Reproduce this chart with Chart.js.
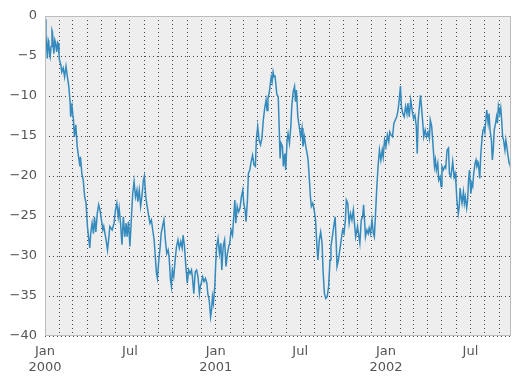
<!DOCTYPE html>
<html>
<head>
<meta charset="utf-8">
<script src="https://cdn.jsdelivr.net/npm/chart.js@4/dist/chart.umd.min.js"></script>
<style>
  body { margin: 0; background: #fff; }
</style>
</head>
<body>
<canvas id="myChart" width="520" height="385"></canvas>
<script>
// days counted from 2000-01-01
const days = [
  0, 2, 4, 5, 7, 8, 10, 11, 13, 15, 16, 18, 19, 21, 22, 24, 25, 27, 28, 30,
  31, 34, 36, 39, 42, 45, 48, 51, 54, 55, 58, 61, 63, 66, 69, 72, 75, 76, 79, 82,
  85, 88, 91, 94, 96, 98, 101, 104, 106, 109, 112, 115, 118, 121, 124, 126, 131, 134, 137, 139,
  144, 148, 151, 154, 157, 159, 162, 165, 168, 171, 174, 176, 179, 182, 185, 188, 191, 194, 197, 199,
  202, 205, 208, 211, 213, 216, 219, 222, 225, 228, 231, 234, 236, 239, 241, 244, 247, 249, 252, 255,
  258, 261, 264, 266, 269, 271, 273, 276, 279, 282, 285, 288, 291, 294, 296, 299, 302, 305, 308, 311,
  314, 316, 319, 322, 325, 328, 331, 333, 335, 338, 341, 344, 347, 349, 352, 355, 357, 359, 361, 364,
  366, 368, 371, 374, 377, 379, 382, 385, 388, 391, 394, 396, 399, 402, 405, 407, 409, 412, 415, 418,
  421, 424, 426, 429, 431, 434, 436, 439, 442, 445, 448, 451, 453, 456, 459, 462, 465, 468, 471, 474,
  476, 478, 481, 483, 485, 487, 489, 491, 493, 495, 497, 500, 502, 504, 506, 509, 511, 514, 516, 519,
  521, 524, 527, 529, 532, 535, 537, 539, 542, 545, 548, 551, 553, 556, 559, 562, 564, 566, 569, 571,
  574, 577, 580, 583, 585, 588, 591, 594, 596, 599, 602, 605, 608, 611, 613, 616, 619, 622, 624, 626,
  629, 632, 635, 638, 641, 644, 646, 649, 652, 655, 658, 661, 664, 666, 670, 673, 675, 678, 681, 683,
  685, 687, 690, 693, 695, 698, 701, 704, 706, 708, 711, 714, 717, 720, 723, 725, 728, 731, 734, 737,
  739, 742, 745, 748, 751, 754, 757, 760, 762, 764, 767, 770, 773, 776, 778, 781, 784, 787, 790, 793,
  796, 798, 800, 802, 805, 807, 810, 812, 815, 818, 821, 824, 826, 829, 832, 835, 837, 839, 842, 844,
  847, 849, 851, 854, 857, 859, 862, 865, 867, 870, 872, 874, 877, 879, 881, 883, 886, 888, 890, 892,
  894, 897, 899, 901, 904, 906, 908, 910, 913, 915, 917, 919, 922, 924, 926, 929, 932, 934, 936, 939,
  941, 943, 945, 947, 950, 952, 954, 957, 959, 961, 963, 966, 968, 970, 972, 975, 977, 979, 981, 983,
  986, 988, 990, 992, 995, 997, 999
];
const values = [
  -0.4, -2.5, -4.2, -5.3, -3.0, -3.2, -4.8, -5.1, -3.8, -1.8, -2.0, -4.0, -4.7, -3.0, -3.2, -4.0, -4.5, -3.3, -3.4, -4.8,
  -5.5, -6.1, -7.0, -6.5, -7.6, -6.3, -7.6, -8.8, -10.9, -12.6, -11.3, -13.0, -15.1, -13.6, -16.3, -17.6, -18.8, -17.6, -19.7, -20.5,
  -22.6, -23.4, -26.3, -28.0, -29.0, -27.2, -25.9, -27.2, -25.1, -27.0, -24.7, -23.6, -24.3, -25.5, -26.75, -26.3, -28.0, -29.25, -27.6, -26.3,
  -26.75, -25.9, -24.25, -23.4, -25.1, -24.05, -25.9, -28.6, -25.1, -27.6, -25.9, -27.6, -25.7, -28.8, -25.5, -22.2, -20.7, -22.6, -21.75, -23.2,
  -21.75, -23.8, -22.4, -20.5, -20.0, -22.6, -23.8, -24.9, -25.9, -25.5, -26.75, -28.0, -29.7, -32.2, -32.8, -30.5, -28.8, -27.2, -26.3, -25.5,
  -28.0, -29.7, -29.25, -30.1, -33.0, -33.8, -31.75, -32.6, -30.5, -28.8, -28.0, -29.0, -28.2, -29.0, -27.4, -28.8, -31.3, -33.4, -31.75, -32.2,
  -31.75, -32.6, -34.7, -32.0, -31.75, -32.6, -34.7, -33.8, -33.4, -32.6, -33.2, -32.8, -33.4, -34.7, -35.5, -37.6, -36.75, -35.1, -35.9, -33.8,
  -30.9, -28.8, -27.8, -29.7, -28.4, -31.75, -28.8, -28.0, -31.3, -29.7, -28.8, -28.4, -26.75, -27.4, -24.7, -23.0, -25.9, -23.8, -24.5, -24.0,
  -22.6, -21.75, -23.4, -24.25, -25.7, -23.0, -19.7, -19.25, -18.2, -17.4, -18.6, -18.8, -15.5, -13.8, -15.5, -16.1, -15.3, -13.0, -11.5, -10.5,
  -11.8, -10.3, -9.5, -8.5, -7.6, -8.2, -7.0, -7.6, -7.4, -8.6, -9.8, -10.1, -13.8, -17.8, -15.9, -16.3, -18.8, -17.2, -19.25, -15.5,
  -14.7, -15.9, -13.8, -11.3, -9.5, -8.8, -10.7, -9.25, -12.6, -13.8, -15.1, -14.0, -16.3, -15.1, -16.3, -17.2, -18.0, -19.7, -22.6, -23.8,
  -23.4, -24.25, -25.5, -28.8, -30.5, -28.0, -27.0, -28.4, -31.75, -34.7, -35.3, -35.1, -33.8, -30.5, -28.8, -27.6, -26.3, -25.1, -28.0, -31.3,
  -30.5, -29.25, -28.0, -26.75, -27.2, -25.5, -23.0, -23.4, -25.9, -24.7, -25.5, -24.25, -26.3, -27.6, -26.3, -27.6, -28.4, -25.5, -25.1, -23.6,
  -25.5, -27.6, -26.75, -27.2, -26.5, -27.2, -25.5, -27.2, -27.6, -25.5, -21.75, -18.8, -16.75, -18.0, -16.75, -17.6, -15.5, -16.3, -14.9, -15.7,
  -14.5, -14.9, -15.1, -13.4, -13.0, -12.6, -11.75, -10.1, -8.75, -11.3, -12.2, -12.6, -11.3, -12.2, -10.9, -12.6, -10.5, -11.75, -12.8, -12.4,
  -13.8, -17.2, -13.0, -11.75, -9.9, -11.3, -13.4, -15.1, -14.25, -15.1, -14.5, -15.3, -13.0, -13.8, -16.3, -18.8, -18.0, -19.25, -18.4, -20.5,
  -20.1, -21.3, -18.8, -19.25, -18.8, -19.0, -16.75, -16.5, -19.7, -20.1, -19.25, -18.2, -20.1, -19.7, -20.9, -23.0, -24.7, -23.8, -21.5, -22.6,
  -23.4, -22.0, -23.4, -22.6, -24.0, -23.0, -20.5, -19.25, -22.2, -20.9, -21.3, -19.7, -18.4, -18.0, -18.8, -18.4, -20.3, -17.6, -15.9, -14.25,
  -13.8, -14.5, -13.0, -11.75, -13.4, -12.2, -14.25, -15.5, -18.0, -16.75, -14.25, -13.4, -12.6, -13.4, -11.25, -12.2, -11.5, -13.0, -15.1, -15.5,
  -16.75, -15.5, -16.3, -17.2, -18.4, -18.6, -19.25
];
const monthLabels = ['Jan', '', '', '', '', '', 'Jul', '', '', '', '', ''];
const years = [2000, 2001, 2002];
const lastDay = 999;

// month starts as day offsets, used for ticks and minor grid
const monthTicks = [];
const start = Date.UTC(2000, 0, 1);
years.forEach(y => {
  for (let m = 0; m < 12; m++) {
    let d = Math.round((Date.UTC(y, m, 1) - start) / 864e5);
    if (d <= lastDay) monthTicks.push({ value: d, month: m, year: y });
  }
});

const tickFont = { family: 'DejaVu Sans', size: 13 };

const frame = {
  id: 'frame',
  beforeDraw(chart) {
    let a = chart.chartArea;
    chart.ctx.save();
    chart.ctx.fillStyle = '#eeeeee';
    chart.ctx.fillRect(a.left, a.top, a.right - a.left, a.bottom - a.top);
    chart.ctx.restore();
  },
  afterDraw(chart) {
    let a = chart.chartArea;
    let ctx = chart.ctx;
    ctx.save();
    ctx.strokeStyle = '#bcbcbc';
    ctx.lineWidth = 1;
    ctx.strokeRect(Math.round(a.left) + 0.5, Math.round(a.top) + 0.5,
      Math.round(a.right - a.left) - 1, Math.round(a.bottom - a.top) - 1);
    ctx.restore();
  }
};

new Chart('myChart', {
  type: 'line',
  data: {
    datasets: [{
      data: days.map((d, i) => ({ x: d, y: values[i] })),
      borderColor: '#348ABD',
      borderWidth: 1.5,
      pointRadius: 0,
      tension: 0,
      fill: false
    }]
  },
  options: {
    responsive: false,
    animation: false,
    layout: { padding: { top: 16, right: 9, left: 0, bottom: 0 } },
    plugins: {
      legend: { display: false },
      tooltip: { enabled: false }
    },
    scales: {
      x: {
        type: 'linear',
        min: 0,
        max: lastDay,
        afterBuildTicks: axis => { axis.ticks = monthTicks.map(t => ({ value: t.value })); },
        afterFit: axis => { axis.height = 49; },
        grid: { color: 'rgba(0,0,0,0.7)', lineWidth: 1, drawTicks: false },
        border: { display: false, dash: [1, 3] },
        ticks: {
          padding: 8,
          autoSkip: false,
          maxRotation: 0,
          color: '#555555',
          font: tickFont,
          callback: function(value, index) {
            let t = monthTicks[index];
            if (!t) return '';
            if (t.month === 0) return [monthLabels[0], String(t.year)];
            return monthLabels[t.month];
          }
        }
      },
      y: {
        min: -40,
        max: 0,
        afterFit: axis => { axis.width = 45; },
        grid: { color: 'rgba(0,0,0,0.7)', lineWidth: 1, drawTicks: false },
        border: { display: false, dash: [1, 3] },
        ticks: {
          stepSize: 5,
          padding: 8,
          color: '#555555',
          font: tickFont,
          callback: value => String(value).replace('-', '\u2212')
        }
      }
    }
  },
  plugins: [frame]
});
</script>
</body>
</html>
